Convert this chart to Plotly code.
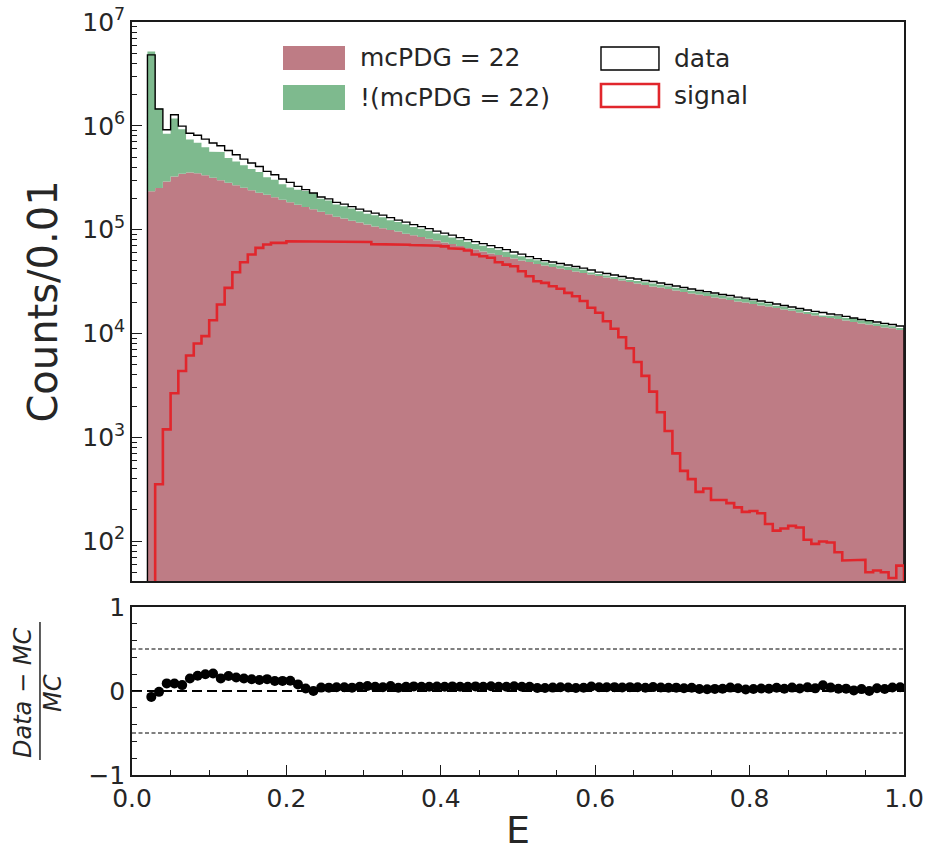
import numpy as np
import plotly.graph_objects as go

# 100 bins of width 0.01 in E, counts
bin_edges = np.linspace(0.0, 1.0, 101)
bin_centers = bin_edges[:-1] + 0.005

data_counts = [
    0, 0, 4820000, 1450000, 916000, 1280000, 993000, 847000, 810000, 745000,
    682000, 643000, 579000, 526000, 478000, 438000, 406000, 364000, 338000, 307000,
    285000, 261000, 243000, 225000, 206000, 198000, 183000, 175900, 166400, 157500,
    150600, 144100, 137800, 130400, 123400, 118100, 111700, 106900, 102200, 96700,
    92500, 88500, 83800, 80100, 76700, 73300, 70200, 67100, 64200, 60800,
    58100, 55000, 52600, 50300, 48700, 47100, 45600, 44100, 42600, 40800,
    39000, 37800, 36500, 35300, 34200, 33400, 32300, 31600, 30600, 29600,
    28600, 27700, 26800, 25900, 25300, 24500, 23700, 23200, 22400, 21900,
    21200, 20500, 19900, 19200, 18600, 18000, 17400, 16800, 16300, 15900,
    15400, 15100, 14600, 14100, 13600, 13300, 12900, 12500, 12200, 11800,
]

mc_photon = [
    0, 0, 234000, 252000, 291000, 325000, 346000, 356000, 349000, 334000,
    316000, 299000, 283000, 268000, 253000, 240000, 227000, 217000, 205000, 194000,
    184000, 174000, 165000, 157500, 149000, 141000, 133000, 128000, 122000, 117000,
    112000, 107000, 103000, 99000, 95700, 91500, 88500, 84700, 81900, 78400,
    75000, 72500, 69400, 66400, 64200, 61500, 58800, 56900, 54400, 52600,
    50300, 48700, 46600, 45100, 43600, 42200, 40800, 39500, 38200, 36900,
    35700, 34600, 33400, 32300, 31300, 30300, 29300, 28300, 27700, 26800,
    25900, 25100, 24200, 23700, 22900, 22200, 21700, 21000, 20300, 19900,
    19200, 18600, 18200, 17600, 17000, 16500, 15900, 15400, 14900, 14400,
    14100, 13800, 13300, 12900, 12500, 12200, 11800, 11400, 11200, 10800,
]

mc_other = [
    0, 0, 4950000, 1213000, 549000, 849000, 582000, 381000, 337000, 287000,
    248000, 260000, 208000, 185000, 163000, 144000, 132000, 102000, 97000, 80000,
    70000, 68000, 71000, 67500, 49000, 49400, 42000, 40300, 38000, 33000,
    30100, 30200, 28900, 24000, 23000, 21000, 17400, 17100, 15400, 13300,
    13100, 11400, 10400, 9900, 8500, 8300, 7700, 7000, 6700, 5000,
    5000, 3700, 4200, 3500, 3200, 2900, 3000, 3100, 2800, 1800,
    1600, 1600, 1500, 1600, 1400, 1700, 1800, 1900, 1700, 1700,
    1600, 1700, 1600, 1600, 1900, 1700, 1400, 1300, 1400, 1600,
    1500, 1300, 1200, 900, 1100, 800, 1000, 700, 900, 500,
    700, 900, 900, 1100, 800, 1100, 700, 800, 500, 500,
]

signal_counts = [
    0, 0, 0, 353, 1190, 2650, 4350, 6140, 8010, 9420,
    13400, 19000, 27500, 38900, 48500, 57500, 66700, 71800, 74500, 74500,
    77200, 77200, 77200, 76000, 76000, 76000, 76000, 76000, 76000, 76000,
    76000, 72500, 72000, 72000, 72000, 71500, 71000, 71000, 70000, 70000,
    69000, 66000, 65000, 63000, 57500, 55400, 53500, 48500, 46000, 44400,
    39700, 35600, 31800, 30700, 28500, 26900, 24600, 22800, 20500, 17700,
    15800, 13100, 11100, 9200, 7200, 5300, 3900, 2750, 1740, 1150,
    700, 474, 395, 298, 321, 249, 249, 232, 211, 191,
    195, 185, 146, 126, 132, 140, 135, 103, 94, 99,
    97, 78, 65, 66, 66, 50, 52, 50, 44, 58,
]

FONT = "DejaVu Sans"
TXT = "#262626"
ROSE = "#BE7C85"
GREEN = "#7EBA8E"
RED = "#E1262C"
FLOOR = 1.0  # below the visible log range, gets clipped


def step_outline(counts):
    xs, ys = [bin_edges[0]], [FLOOR]
    for i, c in enumerate(counts):
        v = c if c > 0 else FLOOR
        xs += [bin_edges[i], bin_edges[i + 1]]
        ys += [v, v]
    xs.append(bin_edges[-1])
    ys.append(FLOOR)
    return xs, ys


mc_total = [a + b for a, b in zip(mc_photon, mc_other)]

fig = go.Figure()

# stacked MC fills (upper panel)
px_x, px_y = step_outline(mc_photon)
fig.add_trace(go.Scatter(x=px_x, y=px_y, mode="lines", fill="toself",
                         fillcolor=ROSE, line=dict(width=0), name="mcPDG = 22",
                         xaxis="x2", yaxis="y2"))

tot_x, tot_y = step_outline(mc_total)
fig.add_trace(go.Scatter(x=tot_x + px_x[::-1], y=tot_y + px_y[::-1], mode="lines",
                         fill="toself", fillcolor=GREEN, line=dict(width=0),
                         name="!(mcPDG = 22)", xaxis="x2", yaxis="y2"))

d_x, d_y = step_outline(data_counts)
fig.add_trace(go.Scatter(x=d_x, y=d_y, mode="lines", line=dict(color="black", width=1.4),
                         name="data", xaxis="x2", yaxis="y2"))

s_x, s_y = step_outline(signal_counts)
fig.add_trace(go.Scatter(x=s_x, y=s_y, mode="lines", line=dict(color=RED, width=2.6),
                         name="signal", xaxis="x2", yaxis="y2"))

# ratio panel
ratio_x, ratio_y = [], []
for c, d, m in zip(bin_centers, data_counts, mc_total):
    if m > 0:
        ratio_x.append(c)
        ratio_y.append((d - m) / m)

fig.add_trace(go.Scatter(x=ratio_x, y=ratio_y, mode="markers",
                         marker=dict(color="black", size=10), xaxis="x", yaxis="y"))

for yv, w, dash in [(0.5, 1, "4px,2.5px"), (-0.5, 1, "4px,2.5px"), (0.0, 2, "10px,5px")]:
    fig.add_shape(type="line", xref="x", yref="y", x0=0, x1=1, y0=yv, y1=yv,
                  line=dict(color="black", width=w, dash=dash), layer="below")

axis_common = dict(
    showline=True, mirror=True, linecolor="#1a1a1a", linewidth=1.5,
    ticks="inside", tickcolor="#1a1a1a", tickwidth=1.2, ticklen=10,
    showgrid=False, zeroline=False, automargin=False, ticklabeloverflow="allow",
    tickfont=dict(family=FONT, size=25, color=TXT),
)

decades = [2, 3, 4, 5, 6, 7]
log_minor = [k * 10 ** d for d in range(1, 7) for k in range(2, 10)]

fig.update_layout(
    width=928, height=852,
    margin=dict(l=132, r=24, t=22, b=77),
    paper_bgcolor="white", plot_bgcolor="white",
    showlegend=False,
    font=dict(family=FONT, color=TXT),
    xaxis=dict(
        **axis_common, domain=[0, 1], anchor="y", range=[0, 1],
        tickmode="array", tickvals=[0, 0.2, 0.4, 0.6, 0.8, 1.0],
        ticktext=["0.0", "0.2", "0.4", "0.6", "0.8", "1.0"],
        minor=dict(ticks="inside", ticklen=5, tickcolor="#1a1a1a", tickwidth=1,
                   tickmode="array", tickvals=[i * 0.05 for i in range(21)]),
        title=dict(text="E", font=dict(family=FONT, size=38, color=TXT), standoff=10),
    ),
    yaxis=dict(
        **axis_common, domain=[0, 0.2231], anchor="x", range=[-1, 1],
        tickmode="array", tickvals=[-1, 0, 1], ticktext=["\u22121", "0", "1"],
        minor=dict(ticks="inside", ticklen=5, tickcolor="#1a1a1a", tickwidth=1,
                   tickmode="array", tickvals=[-0.8, -0.6, -0.4, -0.2, 0.2, 0.4, 0.6, 0.8]),
    ),
    xaxis2=dict(
        **{**axis_common, "ticks": ""}, domain=[0, 1], anchor="y2", range=[0, 1],
        matches="x", showticklabels=False,
    ),
    yaxis2=dict(
        **axis_common, domain=[0.2576, 1], anchor="x2", type="log", range=[1.615, 7.0],
        tickmode="array", tickvals=[10 ** d for d in decades],
        ticktext=["10<sup>%d</sup>" % d for d in decades],
        minor=dict(ticks="inside", ticklen=5, tickcolor="#1a1a1a", tickwidth=1,
                   tickmode="array", tickvals=log_minor),
        title=dict(text="Counts/0.01", font=dict(family=FONT, size=40, color=TXT), standoff=12),
    ),
)

# lower y label drawn as a fraction
fig.add_annotation(text="<i>Data \u2212 MC</i>", xref="paper", yref="paper",
                   x=-0.1412, y=0.1089, xanchor="center", yanchor="middle",
                   textangle=-90, showarrow=False,
                   font=dict(family=FONT, size=24, color=TXT))
fig.add_annotation(text="<i>MC</i>", xref="paper", yref="paper",
                   x=-0.1023, y=0.1089, xanchor="center", yanchor="middle",
                   textangle=-90, showarrow=False,
                   font=dict(family=FONT, size=24, color=TXT))
fig.add_shape(type="line", xref="paper", yref="paper", x0=-0.1192, x1=-0.1192,
              y0=0.0199, y1=0.2032, line=dict(color=TXT, width=1.5))

# legend, two columns like the reference
legend_rows = [
    ("mcPDG = 22", dict(fillcolor=ROSE, line=dict(width=0)), 0.1956, 0.2759, 0.9681, 0.9363),
    ("!(mcPDG = 22)", dict(fillcolor=GREEN, line=dict(width=0)), 0.1956, 0.2759, 0.9163, 0.8831),
    ("data", dict(fillcolor="white", line=dict(color="black", width=1.4)), 0.6075, 0.6826, 0.9668, 0.9363),
    ("signal", dict(fillcolor="white", line=dict(color=RED, width=2.6)), 0.6075, 0.6826, 0.9177, 0.8871),
]
for label, style, x0, x1, y0, y1 in legend_rows:
    fig.add_shape(type="rect", xref="paper", yref="paper", x0=x0, x1=x1, y0=y0, y1=y1, **style)
    fig.add_annotation(text=label, xref="paper", yref="paper", x=x1 + 0.017, y=(y0 + y1) / 2,
                       xanchor="left", yanchor="middle", showarrow=False,
                       font=dict(family=FONT, size=25, color=TXT))

# drop the default 8px page margin so the figure fills the window exactly
fig.write_html("out.html", config={"displayModeBar": False},
               post_script="document.body.style.margin = '0';")
